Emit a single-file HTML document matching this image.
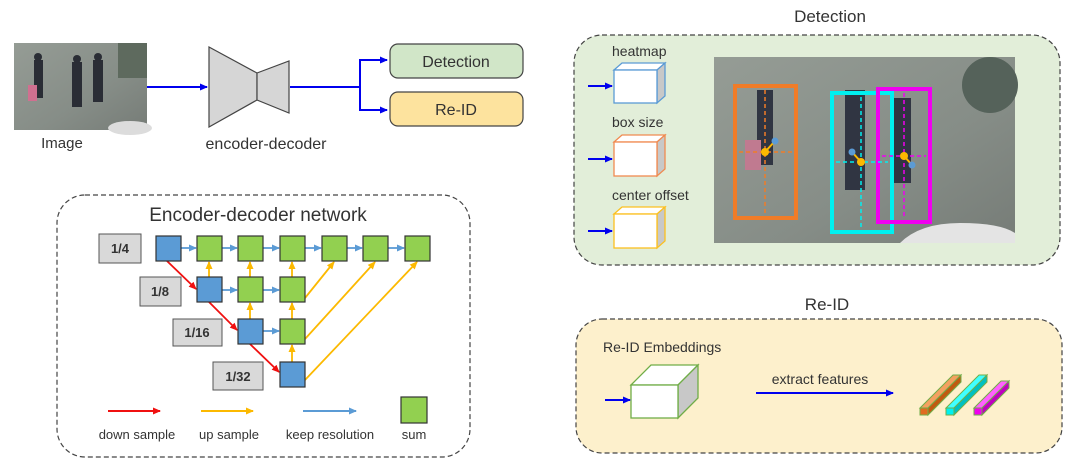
<!DOCTYPE html>
<html><head><meta charset="utf-8"><style>
html,body{margin:0;padding:0;background:#fff;}
svg{display:block;font-family:"Liberation Sans",sans-serif;}
</style></head><body>
<svg width="1080" height="475" viewBox="0 0 1080 475" xmlns="http://www.w3.org/2000/svg">
<defs>
<marker id="ab" markerWidth="8" markerHeight="8" refX="7" refY="4" orient="auto" markerUnits="userSpaceOnUse"><path d="M0,0.5 L8,4 L0,7.5z" fill="#0000ee"/></marker>
<marker id="ar" markerWidth="8" markerHeight="8" refX="7" refY="4" orient="auto" markerUnits="userSpaceOnUse"><path d="M0,0.5 L8,4 L0,7.5z" fill="#f01010"/></marker>
<marker id="ay" markerWidth="8" markerHeight="8" refX="7" refY="4" orient="auto" markerUnits="userSpaceOnUse"><path d="M0,0.5 L8,4 L0,7.5z" fill="#fcb900"/></marker>
<marker id="al" markerWidth="8" markerHeight="8" refX="7" refY="4" orient="auto" markerUnits="userSpaceOnUse"><path d="M0,0.5 L8,4 L0,7.5z" fill="#5b9bd5"/></marker>
<linearGradient id="ph" x1="0" y1="0" x2="1" y2="1"><stop offset="0" stop-color="#959c95"/><stop offset="0.6" stop-color="#868d87"/><stop offset="1" stop-color="#767c77"/></linearGradient>
</defs>

<!-- top-left image -->
<rect x="14" y="43" width="133" height="87" fill="url(#ph)"/>
<rect x="118" y="43" width="29" height="35" fill="#5e6a5e"/>
<ellipse cx="130" cy="128" rx="22" ry="7" fill="#dcdcdc"/>
<path d="M34,60 h9 v38 h-9z M72,62 h10 v45 h-10z M93,60 h10 v42 h-10z" fill="#2a2d35"/>
<circle cx="38" cy="57" r="4" fill="#2a2d35"/><circle cx="77" cy="59" r="4" fill="#2a2d35"/><circle cx="98" cy="57" r="4" fill="#2a2d35"/>
<rect x="28" y="85" width="9" height="16" fill="#d07090"/>
<text x="62" y="148" font-size="15" fill="#333" text-anchor="middle">Image</text>
<line x1="147" y1="87" x2="207" y2="87" stroke="#0000ee" stroke-width="2" marker-end="url(#ab)"/>
<path d="M209,47 L257,73 L257,100 L209,127z" fill="#d6d6d6" stroke="#444" stroke-width="1.2"/>
<path d="M257,73 L289,61 L289,113 L257,100z" fill="#d6d6d6" stroke="#444" stroke-width="1.2"/>
<text x="266" y="149" font-size="16" fill="#333" text-anchor="middle">encoder-decoder</text>
<path d="M290,87 H360 V60 H386 M360,87 V110 H386" fill="none" stroke="#0000ee" stroke-width="2"/>
<line x1="378" y1="60" x2="387" y2="60" stroke="#0000ee" stroke-width="2" marker-end="url(#ab)"/>
<line x1="378" y1="110" x2="387" y2="110" stroke="#0000ee" stroke-width="2" marker-end="url(#ab)"/>
<rect x="390" y="44" width="133" height="34" rx="8" fill="#d1e6c8" stroke="#444" stroke-width="1.2"/>
<text x="456" y="67" font-size="16" fill="#333" text-anchor="middle">Detection</text>
<rect x="390" y="92" width="133" height="34" rx="8" fill="#fde39e" stroke="#444" stroke-width="1.2"/>
<text x="456" y="115" font-size="16" fill="#333" text-anchor="middle">Re-ID</text>

<!-- encoder-decoder network -->
<rect x="57" y="195" width="413" height="262" rx="28" fill="#fff" stroke="#444" stroke-width="1.2" stroke-dasharray="5,3"/>
<text x="258" y="221" font-size="19" fill="#333" text-anchor="middle">Encoder-decoder network</text>
<g font-size="13" font-weight="bold" fill="#333" text-anchor="middle">
<rect x="99" y="234" width="42" height="29" fill="#d9d9d9" stroke="#555"/><text x="120" y="253">1/4</text>
<rect x="140" y="277" width="41" height="29" fill="#d9d9d9" stroke="#555"/><text x="160" y="296">1/8</text>
<rect x="173" y="319" width="49" height="27" fill="#d9d9d9" stroke="#555"/><text x="197" y="337">1/16</text>
<rect x="213" y="362" width="50" height="28" fill="#d9d9d9" stroke="#555"/><text x="238" y="381">1/32</text>
</g>
<g stroke="#5b9bd5" stroke-width="1.8" marker-end="url(#al)">
<line x1="181" y1="248" x2="196" y2="248"/><line x1="222" y1="248" x2="237" y2="248"/><line x1="263" y1="248" x2="279" y2="248"/><line x1="305" y1="248" x2="321" y2="248"/><line x1="347" y1="248" x2="362" y2="248"/><line x1="388" y1="248" x2="404" y2="248"/>
<line x1="222" y1="290" x2="237" y2="290"/><line x1="263" y1="290" x2="279" y2="290"/>
<line x1="263" y1="331" x2="279" y2="331"/>
</g>
<g stroke="#f01010" stroke-width="1.8" marker-end="url(#ar)">
<line x1="167" y1="261" x2="196" y2="289"/><line x1="209" y1="302" x2="237" y2="330"/><line x1="250" y1="344" x2="279" y2="372"/>
</g>
<g stroke="#fcb900" stroke-width="1.8" marker-end="url(#ay)">
<line x1="209" y1="277" x2="209" y2="262"/><line x1="250" y1="277" x2="250" y2="262"/><line x1="292" y1="277" x2="292" y2="262"/>
<line x1="250" y1="319" x2="250" y2="303"/><line x1="292" y1="319" x2="292" y2="303"/>
<line x1="292" y1="362" x2="292" y2="345"/>
<line x1="305" y1="298" x2="334" y2="262"/><line x1="305" y1="339" x2="375" y2="262"/><line x1="305" y1="380" x2="417" y2="262"/>
</g>
<g stroke="#333" stroke-width="1.2">
<rect x="156" y="236" width="25" height="25" fill="#5b9bd5"/>
<rect x="197" y="236" width="25" height="25" fill="#92d050"/><rect x="238" y="236" width="25" height="25" fill="#92d050"/><rect x="280" y="236" width="25" height="25" fill="#92d050"/><rect x="322" y="236" width="25" height="25" fill="#92d050"/><rect x="363" y="236" width="25" height="25" fill="#92d050"/><rect x="405" y="236" width="25" height="25" fill="#92d050"/>
<rect x="197" y="277" width="25" height="25" fill="#5b9bd5"/><rect x="238" y="277" width="25" height="25" fill="#92d050"/><rect x="280" y="277" width="25" height="25" fill="#92d050"/>
<rect x="238" y="319" width="25" height="25" fill="#5b9bd5"/><rect x="280" y="319" width="25" height="25" fill="#92d050"/>
<rect x="280" y="362" width="25" height="25" fill="#5b9bd5"/>
<rect x="401" y="397" width="26" height="26" fill="#92d050"/>
</g>
<line x1="108" y1="411" x2="160" y2="411" stroke="#f01010" stroke-width="2" marker-end="url(#ar)"/>
<line x1="201" y1="411" x2="253" y2="411" stroke="#fcb900" stroke-width="2" marker-end="url(#ay)"/>
<line x1="303" y1="411" x2="356" y2="411" stroke="#5b9bd5" stroke-width="2" marker-end="url(#al)"/>
<g font-size="13" fill="#333" text-anchor="middle">
<text x="137" y="439">down sample</text><text x="229" y="439">up sample</text><text x="330" y="439">keep resolution</text><text x="414" y="439">sum</text>
</g>

<!-- Detection panel -->
<text x="830" y="22" font-size="17" fill="#333" text-anchor="middle">Detection</text>
<rect x="574" y="35" width="486" height="230" rx="28" fill="#e2eed9" stroke="#444" stroke-width="1.2" stroke-dasharray="5,3"/>
<g font-size="14" fill="#333">
<text x="612" y="56">heatmap</text><text x="612" y="127">box size</text><text x="612" y="200">center offset</text>
</g>
<g stroke-width="1.3">
<path d="M614,70 l8,-7 h43 l-8,7z" fill="#fff" stroke="#5b9bd5"/><path d="M657,70 l8,-7 v33 l-8,7z" fill="#c8c8c8" stroke="#5b9bd5"/><rect x="614" y="70" width="43" height="33" fill="#fff" stroke="#5b9bd5"/>
<path d="M614,142 l8,-7 h43 l-8,7z" fill="#fff" stroke="#f08a50"/><path d="M657,142 l8,-7 v34 l-8,7z" fill="#c8c8c8" stroke="#f08a50"/><rect x="614" y="142" width="43" height="34" fill="#fff" stroke="#f08a50"/>
<path d="M614,214 l8,-7 h43 l-8,7z" fill="#fff" stroke="#fcc020"/><path d="M657,214 l8,-7 v34 l-8,7z" fill="#c8c8c8" stroke="#fcc020"/><rect x="614" y="214" width="43" height="34" fill="#fff" stroke="#fcc020"/>
</g>
<g stroke="#0000ee" stroke-width="2">
<line x1="588" y1="86" x2="612" y2="86" marker-end="url(#ab)"/><line x1="588" y1="159" x2="612" y2="159" marker-end="url(#ab)"/><line x1="588" y1="231" x2="612" y2="231" marker-end="url(#ab)"/>
</g>
<rect x="714" y="57" width="301" height="186" fill="url(#ph)"/>
<ellipse cx="990" cy="85" rx="28" ry="28" fill="#55625a"/>
<path d="M900,243 q20,-20 60,-20 q40,0 55,10 v10z" fill="#e4e4e4"/>
<path d="M757,90 h16 v75 h-16z M845,90 h20 v100 h-20z M893,98 h18 v85 h-18z" fill="#303542"/>
<rect x="745" y="140" width="16" height="30" fill="#c07a90"/>
<g fill="none" stroke-width="4">
<rect x="735" y="86" width="61" height="132" stroke="#f07c28"/>
<rect x="832" y="93" width="60" height="139" stroke="#00f0f0"/>
<rect x="878" y="89" width="52" height="133" stroke="#f000f0"/>
</g>
<g stroke-width="1.5" stroke-dasharray="4,3" fill="none">
<path d="M765,90 V214 M739,152 H792" stroke="#f07c28"/>
<path d="M861,97 V228 M836,162 H888" stroke="#00f0f0"/>
<path d="M904,93 V218 M882,156 H926" stroke="#f000f0"/>
</g>
<g stroke="#fcb900" stroke-width="2"><line x1="765" y1="152" x2="775" y2="141"/><line x1="861" y1="162" x2="852" y2="152"/><line x1="904" y1="156" x2="912" y2="165"/></g>
<g fill="#5b9bd5"><circle cx="775" cy="141" r="3.5"/><circle cx="852" cy="152" r="3.5"/><circle cx="912" cy="165" r="3.5"/></g>
<g fill="#fcb900"><circle cx="765" cy="152" r="4"/><circle cx="861" cy="162" r="4"/><circle cx="904" cy="156" r="4"/></g>

<!-- Re-ID panel -->
<text x="827" y="310" font-size="17" fill="#333" text-anchor="middle">Re-ID</text>
<rect x="576" y="319" width="486" height="134" rx="26" fill="#fdf0cc" stroke="#444" stroke-width="1.2" stroke-dasharray="5,3"/>
<text x="603" y="352" font-size="14" fill="#333">Re-ID Embeddings</text>
<g stroke="#70ad47" stroke-width="1.3">
<path d="M631,385 l20,-20 h47 l-20,20z" fill="#fff"/><path d="M678,385 l20,-20 v33 l-20,20z" fill="#c8c8c8"/><rect x="631" y="385" width="47" height="33" fill="#fff"/>
</g>
<line x1="605" y1="400" x2="630" y2="400" stroke="#0000ee" stroke-width="2" marker-end="url(#ab)"/>
<text x="820" y="384" font-size="14" fill="#333" text-anchor="middle">extract features</text>
<line x1="756" y1="393" x2="893" y2="393" stroke="#0000ee" stroke-width="2" marker-end="url(#ab)"/>
<g stroke="#70ad47" stroke-width="1">
<path d="M920,408 l33,-33 h8 l-33,33z" fill="#f4a060"/><path d="M928,408 l33,-33 v7 l-33,33z" fill="#c05a10"/><rect x="920" y="408" width="8" height="7" fill="#e06a20"/>
<path d="M946,408 l33,-33 h8 l-33,33z" fill="#40ffff"/><path d="M954,408 l33,-33 v7 l-33,33z" fill="#00c0c0"/><rect x="946" y="408" width="8" height="7" fill="#00f0f0"/>
<path d="M974,408 l27,-27 h8 l-27,27z" fill="#ff60ff"/><path d="M982,408 l27,-27 v7 l-27,27z" fill="#c000c0"/><rect x="974" y="408" width="8" height="7" fill="#f000f0"/>
</g>
</svg>
</body></html>
